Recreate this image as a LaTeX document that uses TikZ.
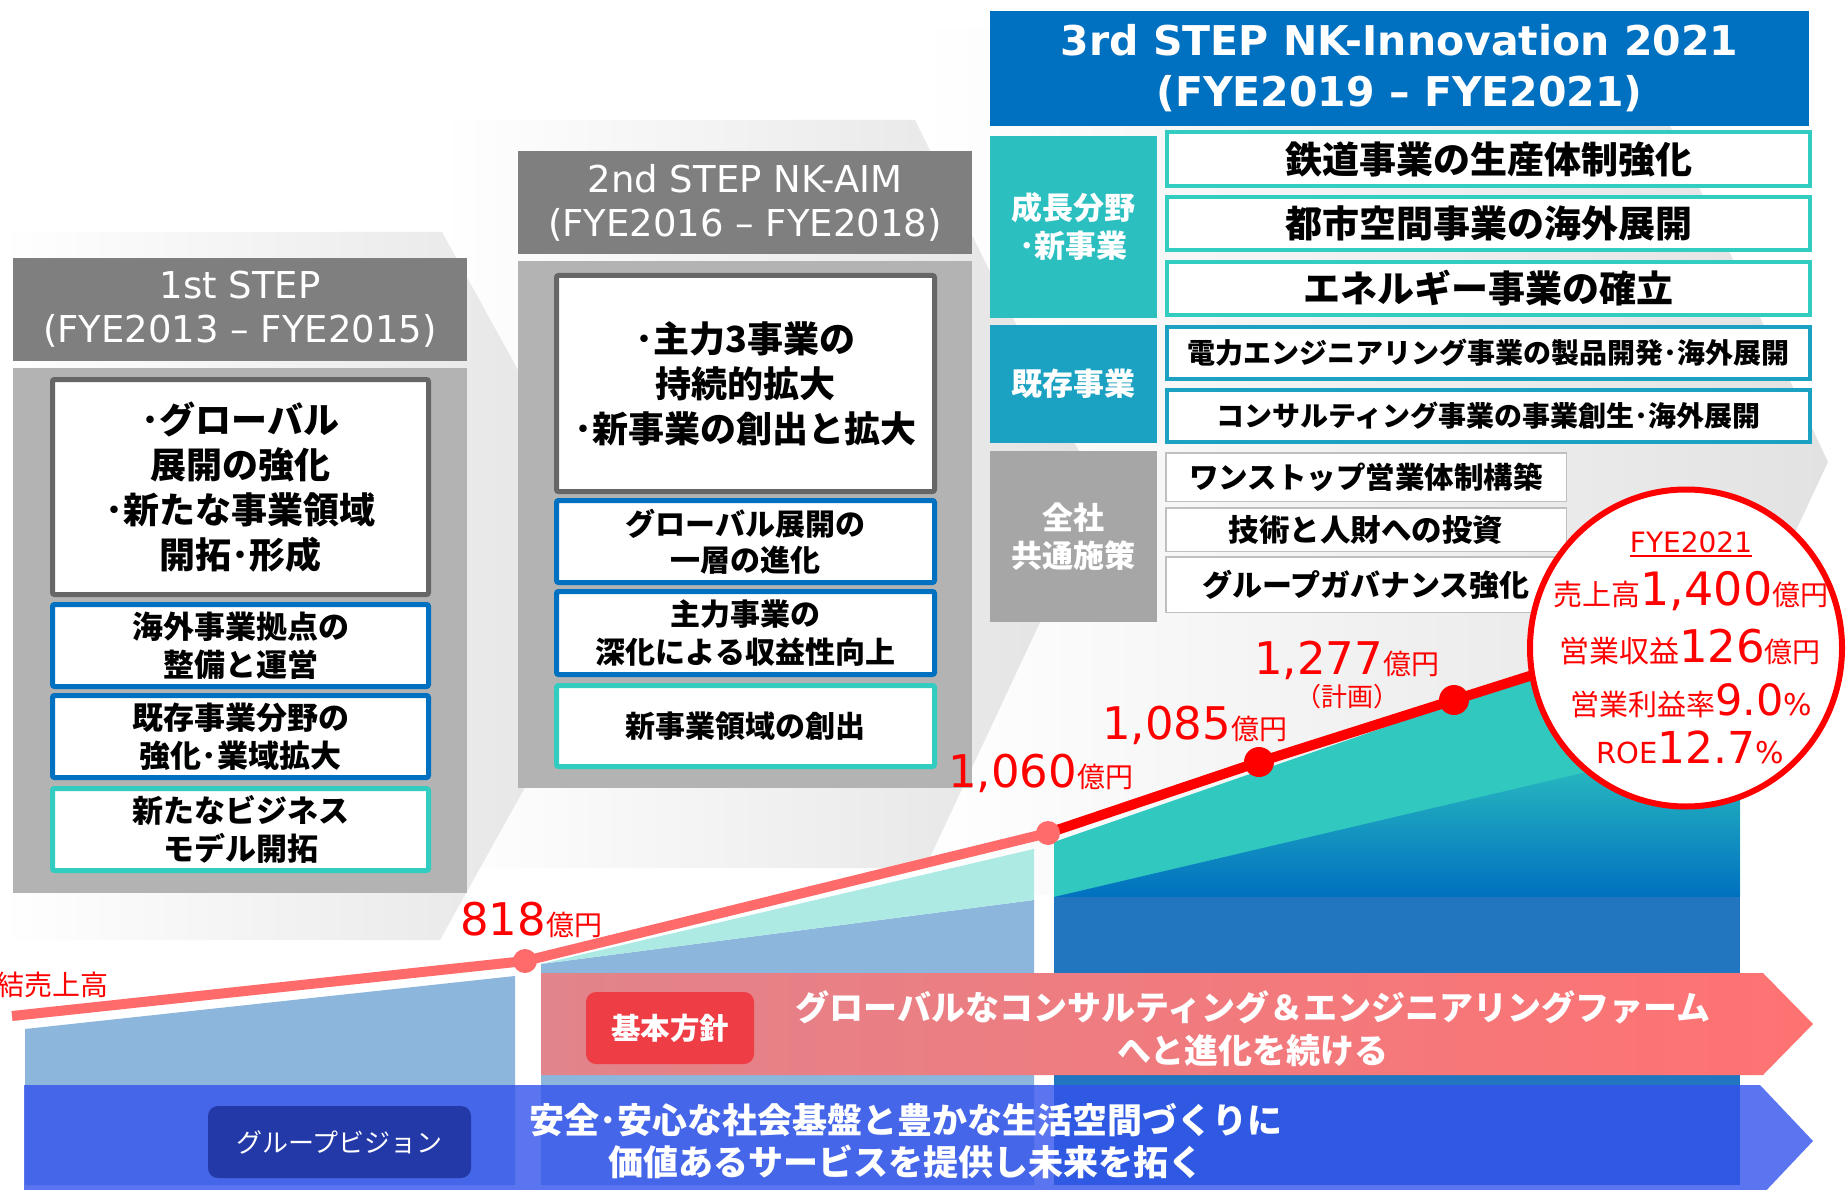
\documentclass[tikz,border=0pt]{standalone}
\usepackage{fontspec}
\setmainfont{DejaVu Sans}
\newfontfamily\jp{Noto Sans CJK JP}
\usetikzlibrary{shapes.geometric}
\newcommand{\fsz}[2]{\fontsize{#1}{#2}\selectfont}
\definecolor{hdrgray}{HTML}{7F7F7F}
\definecolor{bodygray}{HTML}{B3B3B3}
\definecolor{bordgray}{HTML}{666666}
\definecolor{nkblue}{HTML}{0070C0}
\definecolor{nkteal}{HTML}{33CCC0}
\definecolor{catteal}{HTML}{2BBFC0}
\definecolor{catblue}{HTML}{1BA1C1}
\definecolor{catgray}{HTML}{A6A6A6}
\definecolor{cmgray}{HTML}{BFBFBF}
\definecolor{chev}{HTML}{E2E2E2}
\definecolor{ltred}{HTML}{FF6B6B}
\definecolor{ltblue}{HTML}{8DB6DC}
\definecolor{ltteal}{HTML}{ADEAE3}
\definecolor{teal3}{HTML}{31C9BF}
\definecolor{blue3}{HTML}{2176BF}
\definecolor{visblue}{HTML}{3352EC}
\definecolor{visnavy}{HTML}{2339A8}
\definecolor{polred}{HTML}{EF3D45}
\definecolor{polL}{HTML}{E1848B}
\definecolor{polR}{HTML}{FF7272}
\begin{document}
\begin{tikzpicture}[x=1pt,y=-1pt,
  hdr/.style={fill=hdrgray, text=white, inner sep=0pt, align=center, minimum width=454pt, minimum height=103pt, font=\fsz{37}{44}},
  panel/.style={fill=bodygray, inner sep=0pt, minimum width=454pt},
  wbox/.style={fill=white, draw=bordgray, line width=5pt, rounded corners=2pt, inner sep=0pt, align=center, font=\jp\bfseries\fsz{36}{45}},
  bbox/.style={fill=white, draw=nkblue, line width=5pt, rounded corners=2pt, inner sep=0pt, align=center, font=\jp\bfseries\fsz{31}{38}},
  tbox/.style={bbox, draw=nkteal},
  cat/.style={inner sep=0pt, minimum width=167pt, text=white, align=center, font=\jp\bfseries\fsz{31}{38}},
  gbox/.style={fill=white, draw=nkteal, line width=4pt, inner sep=0pt, minimum width=643pt, font=\jp\bfseries\fsz{37}{37}},
  kbox/.style={gbox, draw=catblue, font=\jp\bfseries\fsz{28}{28}},
  cbox/.style={fill=white, draw=cmgray, line width=1.5pt, inner sep=0pt, minimum width=400.5pt, font=\jp\bfseries\fsz{30}{30}},
  val/.style={anchor=base west, text=red, inner sep=0pt},
  cval/.style={anchor=base, text=red, inner sep=0pt},
  dotL/.style={circle, fill=ltred, inner sep=0pt, minimum size=24pt},
  dotR/.style={circle, fill=red, inner sep=0pt, minimum size=30pt}
]
\useasboundingbox (0,0) rectangle (1847,1190);
\fill[white] (0,0) rectangle (1847,1190);

% chevron backgrounds
\shade[left color=white, right color=chev] (920,30) -- (1625,30) -- (1828,462) -- (1625,895) -- (920,895) -- cycle;
\shade[left color=white, right color=chev] (440,120) -- (915,120) -- (1100,494) -- (925,868) -- (440,868) -- cycle;
\shade[left color=white, right color=chev] (0,232) -- (442,232) -- (637,586) -- (440,940) -- (0,940) -- cycle;

% 1st STEP
\node[hdr] (h1) at (240,309.5) {1st STEP\\(FYE2013 – FYE2015)};
\node[panel, minimum height=525pt] (p1) at (240,630.5) {};
\node[wbox, minimum width=376pt, minimum height=215pt] (s1a) at (240.5,487) {･グローバル\\展開の強化\\･新たな事業領域\\開拓･形成};
\node[bbox, minimum width=376pt, minimum height=82pt] (s1b) at (240.5,645.5) {海外事業拠点の\\整備と運営};
\node[bbox, minimum width=376pt, minimum height=82pt] (s1c) at (240.5,736.5) {既存事業分野の\\強化･業域拡大};
\node[tbox, minimum width=376pt, minimum height=82pt] (s1d) at (240.5,829.5) {新たなビジネス\\モデル開拓};

% 2nd STEP
\node[hdr] (h2) at (745,202.5) {2nd STEP NK-AIM\\(FYE2016 – FYE2018)};
\node[panel, minimum height=527pt] (p2) at (745,524.5) {};
\node[wbox, minimum width=378pt, minimum height=216pt] (s2a) at (745.5,383.5) {･主力3事業の\\持続的拡大\\･新事業の創出と拡大};
\node[bbox, font=\jp\bfseries\fsz{30}{36}, minimum width=378pt, minimum height=82pt] (s2b) at (745.5,541.5) {グローバル展開の\\一層の進化};
\node[bbox, font=\jp\bfseries\fsz{30}{38}, minimum width=378pt, minimum height=83pt] (s2c) at (745.5,633) {主力事業の\\深化による収益性向上};
\node[tbox, font=\jp\bfseries\fsz{30}{36}, minimum width=378pt, minimum height=81pt] (s2d) at (745.5,726) {新事業領域の創出};

% 3rd STEP
\node[fill=nkblue, text=white, inner sep=0pt, align=center, minimum width=819pt, minimum height=115pt, font=\bfseries\fsz{41}{51}] (h3) at (1399.5,68.5) {3rd STEP NK-Innovation 2021\\(FYE2019 – FYE2021)};
\node[cat, fill=catteal, minimum height=182pt] (c1) at (1073.5,227) {成長分野\\･新事業};
\node[cat, fill=catblue, minimum height=118pt] (c2) at (1073.5,384) {既存事業};
\node[cat, fill=catgray, minimum height=171pt] (c3) at (1073.5,536.5) {全社\\共通施策};
\node[gbox, minimum height=54pt] (g1) at (1488.5,159) {鉄道事業の生産体制強化};
\node[gbox, minimum height=53pt] (g2) at (1488.5,223.5) {都市空間事業の海外展開};
\node[gbox, minimum height=53pt] (g3) at (1488.5,288.5) {エネルギー事業の確立};
\node[kbox, minimum height=52pt] (k1) at (1488.5,353) {電力エンジニアリング事業の製品開発･海外展開};
\node[kbox, minimum height=52pt] (k2) at (1488.5,416) {コンサルティング事業の事業創生･海外展開};
\node[cbox, minimum height=48.5pt, font=\jp\bfseries\fsz{29.5}{30}] (m1) at (1366,477) {ワンストップ営業体制構築};
\node[cbox, minimum height=43.5pt, font=\jp\bfseries\fsz{30.5}{31}] (m2) at (1366,529.5) {技術と人財への投資};
\node[cbox, minimum height=55.5pt] (m3) at (1366,584.5) {グループガバナンス強化};

% chart areas
\fill[ltblue] (25,1029) -- (515,976) -- (515,1185) -- (25,1185) -- cycle;
\fill[ltblue] (541,964) -- (1034,900) -- (1034,1185) -- (541,1185) -- cycle;
\fill[ltteal] (541,964) -- (1034,849) -- (1034,900) -- cycle;
\fill[teal3] (1054,842) -- (1740,604) -- (1740,897) -- (1054,897) -- cycle;
\shade[top color=teal3, bottom color=nkblue] (1054,897) -- (1740,736) -- (1740,897) -- cycle;
\fill[blue3] (1054,897) rectangle (1740,1185);

% sales line
\coordinate (p0) at (12,1016);
\coordinate (p818) at (525,961);
\coordinate (p1060) at (1048,833);
\coordinate (p1085) at (1259,762);
\coordinate (p1277) at (1454,700);
\coordinate (pend) at (1580,660);
\draw[ltred, line width=10pt] (p0) -- (p818) -- (p1060);
\draw[red, line width=10pt] (p1060) -- (p1085) -- (p1277) -- (pend);
\node[dotL] (d818) at (p818) {};
\node[dotL] (d1060) at (p1060) {};
\node[dotR] (d1085) at (p1085) {};
\node[dotR] (d1277) at (p1277) {};

\node[anchor=east, text=red, inner sep=0pt, font=\jp\fsz{28}{28}] (ren) at (109,985) {連結売上高};
\node[val] (v818) at (460,935) {\fsz{45}{45}818{\jp\fsz{28}{28}億円}};
\node[val] (v1060) at (948,787) {\fsz{45}{45}1,060{\jp\fsz{28}{28}億円}};
\node[val] (v1085) at (1102,739) {\fsz{45}{45}1,085{\jp\fsz{28}{28}億円}};
\node[val] (v1277) at (1254,674) {\fsz{45}{45}1,277{\jp\fsz{28}{28}億円}};
\node[text=red, inner sep=0pt, font=\jp\fsz{26}{26}] (plan) at (1347,697) {（計画）};

% target circle
\node[ellipse, draw=red, line width=6pt, fill=white, inner sep=0pt, minimum width=312pt, minimum height=317pt] (circ) at (1686,648) {};
\node[cval, font=\fsz{28}{28}] (fye) at (1691,552) {FYE2021};
\draw[red, line width=2pt] ([yshift=-4pt]fye.base west) -- ([yshift=-4pt]fye.base east);
\node[cval] (t1) at (1691,605) {{\jp\fsz{29}{29}売上高}{\fsz{46}{46}1,400}{\jp\fsz{28}{28}億円}};
\node[cval] (t2) at (1690,662) {{\jp\fsz{30}{30}営業収益}{\fsz{45}{45}126}{\jp\fsz{28}{28}億円}};
\node[cval] (t3) at (1691,715) {{\jp\fsz{29}{29}営業利益率}{\fsz{43}{43}9.0}{\fsz{30}{30}\%}};
\node[cval] (t4) at (1690,763) {{\fsz{29}{29}ROE}{\fsz{44}{44}12.7}{\fsz{30}{30}\%}};

% policy arrow
\shade[left color=polL, right color=polR] (541,973) -- (1763,973) -- (1813,1024) -- (1763,1075) -- (541,1075) -- cycle;
\node[fill=polred, rounded corners=10pt, inner sep=0pt, minimum width=168pt, minimum height=72pt, text=white, font=\jp\bfseries\fsz{29.5}{30}] (kihon) at (670,1028) {基本方針};
\node[text=white, align=center, inner sep=0pt, font=\jp\bfseries\fsz{34}{43}] (ptext) at (1253,1028.5) {グローバルなコンサルティング＆エンジニアリングファーム\\へと進化を続ける};

% vision arrow
\fill[visblue, opacity=0.8] (24,1085) -- (1760,1085) -- (1813,1141) -- (1760,1197) -- (24,1197) -- cycle;
\node[fill=visnavy, rounded corners=10pt, inner sep=0pt, minimum width=263pt, minimum height=72pt, text=white, font=\jp\fsz{26}{26}] (gv) at (339.5,1142) {グループビジョン};
\node[text=white, align=center, inner sep=0pt, font=\jp\bfseries\fsz{35}{42}] (vtext) at (906,1141) {安全･安心な社会基盤と豊かな生活空間づくりに\\価値あるサービスを提供し未来を拓く};
\end{tikzpicture}
\end{document}
